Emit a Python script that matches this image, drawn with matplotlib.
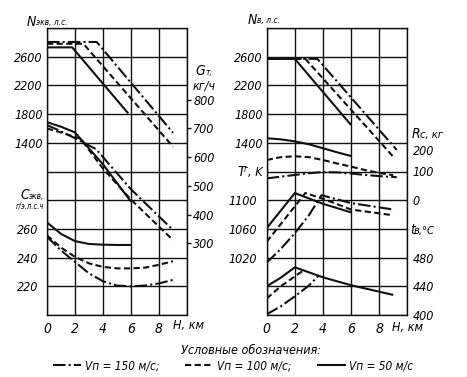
import matplotlib
matplotlib.use('Agg')
import matplotlib.pyplot as plt
from matplotlib.lines import Line2D
from matplotlib.transforms import ScaledTranslation

plt.rcParams['font.family'] = ['Liberation Sans Narrow', 'DejaVu Sans']
plt.rcParams['font.style'] = 'italic'
plt.rcParams['font.stretch'] = 'condensed'

# ---------- левая панель: Nэкв, Gт, Cэкв ----------
h_n_sol, n_sol = [0, 1.8, 5.8], [2730, 2730, 1810]
h_n_dash, n_dash = [0, 2.6, 9.0], [2780, 2780, 1346]
h_n_dd, n_dd = [0, 3.55, 9.0], [2805, 2805, 1540]

h_g_sol, g_sol = [0, 1, 2, 4, 6], [722, 706, 686, 575, 445]
h_g_dash, g_dash = [0, 1, 2.4, 4, 6, 9], [700, 686, 664, 560, 452, 311]
h_g_dd, g_dd = [0, 1, 2, 3.5, 6, 9], [712, 690, 666, 628, 488, 346]

h_c_sol, c_sol = [0, 1, 2, 3, 4, 5, 6], [264.5, 256.5, 251.5, 249.5, 249, 248.8, 248.8]
h_c = [0, 1, 2, 3, 4, 5, 6, 7, 8, 9]
c_dash = [255.5, 247, 240.5, 236, 233.5, 232.5, 232.5, 233, 235, 237.5]
c_dd = [254.5, 245, 237, 229, 223.5, 220.5, 220, 220.5, 222, 224.5]

# ---------- правая панель: Nв, Rс, Tг, tв ----------
h_nb_sol, nb_sol = [0, 2.0, 6.0], [2570, 2570, 1648]
h_nb_dash, nb_dash = [0, 2.75, 9.0], [2570, 2570, 1206]
h_nb_dd, nb_dd = [0, 3.6, 9.25], [2570, 2570, 1300]

h_r_sol, r_sol = [0, 1, 2, 3, 4, 5, 6], [216, 212, 205, 195, 181, 167, 154]
h_r_dash = [0, 1, 2, 3, 4, 5, 6, 7, 8, 9]
r_dash = [140, 150, 153, 150, 140, 128, 117, 105, 95, 87]
h_r_dd = [0, 1, 2, 3, 4, 5, 6, 7, 8, 9.25]
r_dd = [76, 82, 88, 94, 98, 97, 93, 88, 84, 80]

h_t_sol, t_sol = [0, 2.0, 4.0, 6.0], [1061, 1110, 1095, 1083]
h_t_dash, t_dash = [0, 2.75, 4.0, 6.0, 9.0], [1042, 1110, 1102, 1087, 1079]
h_t_dd, t_dd = [0, 1, 2, 3, 3.9, 6, 9], [1013, 1032, 1054, 1079, 1107, 1096, 1087]

h_tv_sol, tv_sol = [0, 1, 2, 4, 6, 8, 9], [440, 452, 466.5, 452.5, 441.5, 432.5, 428]
h_tv_dash, tv_dash = [0, 1, 2.6], [423, 440, 462]
h_tv_dd, tv_dd = [0, 1, 2, 3, 3.7], [401, 412, 426, 441, 455]

W, H = 467, 377
INK = '#111111'
LW = 1.5
SOL = dict(color=INK, lw=LW, ls='-', solid_capstyle='butt')
DASH = dict(color=INK, lw=LW, ls=(0, (3, 1.6)))
DD = dict(color=INK, lw=LW, ls=(0, (6, 1.5, 1, 1.5)))

fig = plt.figure(figsize=(W / 100, H / 100), dpi=100)


def px(x, y):
    return x / W, 1 - y / H


def panel(x0, x1):
    ax = fig.add_axes([x0 / W, 1 - 315 / H, (x1 - x0) / W, 287 / H])
    ax.set_xlim(0, 10)
    ax.set_ylim(0, 10)
    ax.set_xticks(range(0, 11, 2))
    ax.set_xticklabels(['0', '2', '4', '6', '8', ''])
    ax.set_yticks(range(11))
    ax.grid(True, color=INK, lw=1.0)
    ax.tick_params(length=0, labelleft=False, pad=5, labelsize=10)
    for s in ax.spines.values():
        s.set_linewidth(1.0)
        s.set_color(INK)
    return ax


def twin(ax, lo, hi, ticks, side, pad, length=0):
    t = ax.twinx()
    t.set_ylim(lo, hi)
    t.set_yticks(ticks)
    if side == 'left':
        t.yaxis.tick_left()
    else:
        t.yaxis.tick_right()
    t.tick_params(axis='y', length=length, width=1.0, pad=pad,
                  labelsize=9, color=INK)
    for s in t.spines.values():
        s.set_visible(False)
    return t


# левая панель
axL = panel(47, 187)
axN = twin(axL, -1000, 3000, [1400, 1800, 2200, 2600], 'left', 3)
axC = twin(axL, 200, 400, [220, 240, 260], 'left', 6)
axG = twin(axL, 50, 1050, [300, 400, 500, 600, 700, 800], 'right', 1.5, 3)

axN.plot(h_n_dd, n_dd, **DD)
axN.plot(h_n_dash, n_dash, **DASH)
axN.plot(h_n_sol, n_sol, **SOL)
axG.plot(h_g_dd, g_dd, **DD)
axG.plot(h_g_dash, g_dash, **DASH)
axG.plot(h_g_sol, g_sol, **SOL)
axC.plot(h_c, c_dd, **DD)
axC.plot(h_c, c_dash, **DASH)
axC.plot(h_c_sol, c_sol, **SOL)

# правая панель
axR = panel(266.7, 407.3)
axNB = twin(axR, -1000, 3000, [1400, 1800, 2200, 2600], 'left', 3)
axT = twin(axR, 940, 1340, [1020, 1060, 1100], 'left', 7)
axRc = twin(axR, -400, 600, [0, 100, 200], 'right', 4)
axTv = twin(axR, 400, 800, [400, 440, 480], 'right', 4)

# подпись 200 в оригинале чуть ниже своей линии
lbl = axRc.get_yticklabels()[2]
lbl.set_transform(lbl.get_transform() + ScaledTranslation(0, -5 / 72, fig.dpi_scale_trans))

axNB.plot(h_nb_dd, nb_dd, **DD)
axNB.plot(h_nb_dash, nb_dash, **DASH)
axNB.plot(h_nb_sol, nb_sol, **SOL)
axRc.plot(h_r_dd, r_dd, **DD)
axRc.plot(h_r_dash, r_dash, **DASH)
axRc.plot(h_r_sol, r_sol, **SOL)
axT.plot(h_t_dd, t_dd, **DD)
axT.plot(h_t_dash, t_dash, **DASH)
axT.plot(h_t_sol, t_sol, **SOL)
axTv.plot(h_tv_dd, tv_dd, **DD)
axTv.plot(h_tv_dash, tv_dash, **DASH)
axTv.plot(h_tv_sol, tv_sol, **SOL)

# подписи осей
big, small = 10, 6
fig.text(*px(27, 22), 'N', fontsize=big, va='center')
fig.text(*px(36, 23), 'экв, л.с.', fontsize=small, va='center')
fig.text(*px(195, 71), 'G', fontsize=big, va='center')
fig.text(*px(205, 72), 'т,', fontsize=small, va='center')
fig.text(*px(193, 86), 'кг/ч', fontsize=9, va='center')
fig.text(*px(20, 195), 'C', fontsize=big, va='center')
fig.text(*px(29, 196), 'экв,', fontsize=small, va='center')
fig.text(*px(16, 206), 'г/э.л.с.ч', fontsize=5.5, va='center')
fig.text(*px(173, 326), 'H, км', fontsize=9, va='center')

fig.text(*px(248, 20), 'N', fontsize=big, va='center')
fig.text(*px(257, 21), 'в, л.с.', fontsize=small, va='center')
fig.text(*px(412, 134), 'R', fontsize=big, va='center')
fig.text(*px(420, 135), 'с, кг', fontsize=8, va='center')
fig.text(*px(237, 172), 'T', fontsize=big, va='center')
fig.text(*px(244, 169), 'г', fontsize=small, va='center')
fig.text(*px(248, 172), ', K', fontsize=9, va='center')
fig.text(*px(410, 230), 't', fontsize=big, va='center')
fig.text(*px(414, 231), 'в,°C', fontsize=8, va='center')
fig.text(*px(392, 328), 'H, км', fontsize=9, va='center')

# условные обозначения
fig.text(*px(251, 350), 'Условные обозначения:', fontsize=9, ha='center', va='center')
handles = [Line2D([], [], **DD), Line2D([], [], **DASH), Line2D([], [], **SOL)]
labels = ['Vп = 150 м/с;', 'Vп = 100 м/с;', 'Vп = 50 м/с']
fig.legend(handles, labels, loc='center', bbox_to_anchor=px(233, 366), ncol=3,
           frameon=False, handlelength=2.4, columnspacing=2.2,
           handletextpad=0.3, fontsize=8.5, borderpad=0)

fig.savefig('out.png', dpi=100)
